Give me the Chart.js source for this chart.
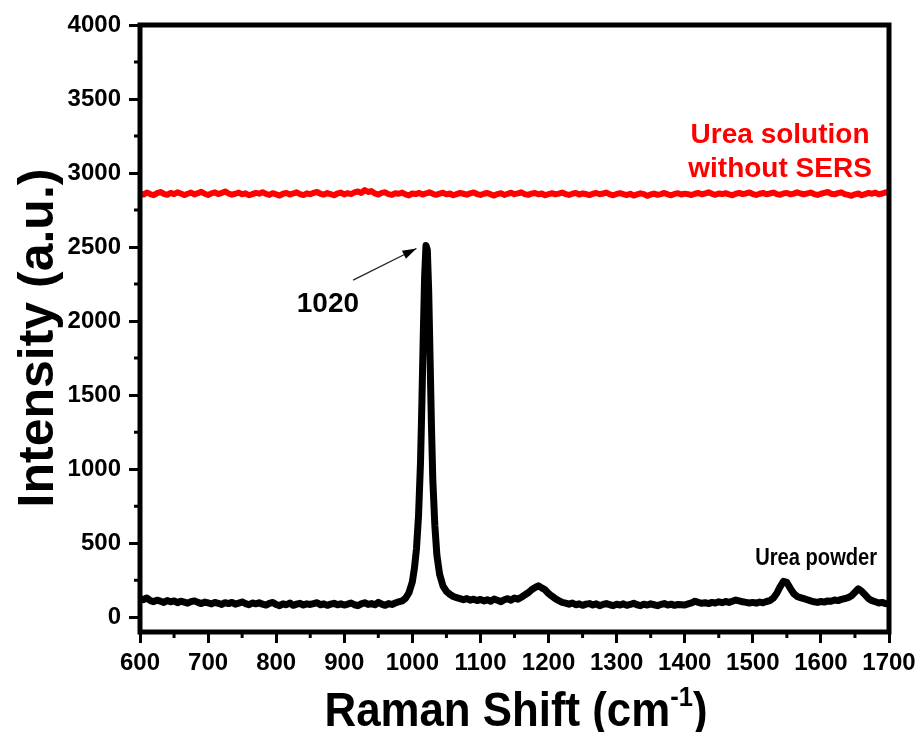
<!DOCTYPE html>
<html>
<head>
<meta charset="utf-8">
<script src="https://cdn.jsdelivr.net/npm/chart.js@4.4.1/dist/chart.umd.min.js"></script>
<style>
  html, body { margin: 0; padding: 0; background: #fff; }
  canvas { display: block; }
</style>
</head>
<body>
<canvas id="c" width="924" height="732"></canvas>
<script>
// ---------- DATA ----------
const powderShift = [
  600,605,610,615,620,625,630,635,640,645,650,655,660,665,670,675,680,685,690,695,
  700,705,710,715,720,725,730,735,740,745,750,755,760,765,770,775,780,785,790,795,
  800,805,810,815,820,825,830,835,840,845,850,855,860,865,870,875,880,885,890,895,
  900,905,910,915,920,925,930,935,940,945,950,955,960,965,970,975,980,985,990,995,
  1000,1003,1006,1009,1012,1014,1016,1018,1020,1022,1024,1026,1028,1030,1033,1036,1040,
  1045,1050,1055,1060,1065,1070,1075,1080,1085,1090,1095,1100,
  1105,1110,1115,1120,1125,1130,1135,1140,1145,1150,1155,1160,1165,1170,1175,1180,1185,1190,1195,1200,
  1205,1210,1215,1220,1225,1230,1235,1240,1245,1250,1255,1260,1265,1270,1275,1280,1285,1290,1295,1300,
  1305,1310,1315,1320,1325,1330,1335,1340,1345,1350,1355,1360,1365,1370,1375,1380,1385,1390,1395,1400,
  1405,1410,1415,1420,1425,1430,1435,1440,1445,1450,1455,1460,1465,1470,1475,1480,1485,1490,1495,1500,
  1505,1510,1515,1520,1525,1530,1535,1540,1545,1550,1555,1560,1565,1570,1575,1580,1585,1590,1595,1600,
  1605,1610,1615,1620,1625,1630,1635,1640,1645,1650,1655,1660,1665,1670,1675,1680,1685,1690,1695,1700
];
const powderIntensity = [
  125,118,130,112,105,115,108,100,112,104,110,98,108,102,95,105,110,100,92,102,
  96,90,100,94,86,98,92,100,88,95,103,92,84,96,90,98,88,82,94,100,
  86,78,90,84,96,80,88,94,82,90,86,92,98,84,90,80,88,94,84,90,
  82,88,96,84,78,90,98,86,92,84,100,88,80,92,86,96,104,110,128,165,
  240,330,460,680,1050,1450,1900,2300,2510,2480,2200,1750,1300,930,620,420,290,
  210,175,155,140,132,125,118,126,115,122,112,120,
  110,118,108,122,114,105,118,125,115,130,122,135,150,165,185,200,212,198,185,160,
  142,125,112,100,95,88,96,84,90,80,88,92,82,90,78,86,92,84,78,88,
  82,90,80,86,94,84,78,88,82,90,84,78,86,92,82,88,80,86,84,82,
  90,96,108,100,94,98,92,100,96,104,98,106,100,108,116,110,104,100,96,100,
  95,102,98,106,112,128,160,205,242,235,195,160,140,132,125,118,110,104,100,106,
  102,110,108,116,112,120,126,132,145,168,192,175,150,125,112,104,96,100,92,88
];

const solutionShift = [
  600,605,610,615,620,625,630,635,640,645,650,655,660,665,670,675,680,685,690,695,700,
  705,710,715,720,725,730,735,740,745,750,755,760,765,770,775,780,785,790,795,800,
  805,810,815,820,825,830,835,840,845,850,855,860,865,870,875,880,885,890,895,900,
  905,910,915,920,925,930,935,940,945,950,955,960,965,970,975,980,985,990,995,1000,
  1005,1010,1015,1020,1025,1030,1035,1040,1045,1050,1055,1060,1065,1070,1075,1080,1085,1090,1095,1100,
  1105,1110,1115,1120,1125,1130,1135,1140,1145,1150,1155,1160,1165,1170,1175,1180,1185,1190,1195,1200,
  1205,1210,1215,1220,1225,1230,1235,1240,1245,1250,1255,1260,1265,1270,1275,1280,1285,1290,1295,1300,
  1305,1310,1315,1320,1325,1330,1335,1340,1345,1350,1355,1360,1365,1370,1375,1380,1385,1390,1395,1400,
  1405,1410,1415,1420,1425,1430,1435,1440,1445,1450,1455,1460,1465,1470,1475,1480,1485,1490,1495,1500,
  1505,1510,1515,1520,1525,1530,1535,1540,1545,1550,1555,1560,1565,1570,1575,1580,1585,1590,1595,1600,
  1605,1610,1615,1620,1625,1630,1635,1640,1645,1650,1655,1660,1665,1670,1675,1680,1685,1690,1695,1700
];
const solutionIntensity = [
  2862,2855,2868,2858,2850,2864,2872,2860,2853,2866,2858,2870,2862,2851,2860,2868,2856,2864,2874,2860,2852,
  2863,2870,2858,2866,2876,2862,2854,2860,2868,2857,2863,2850,2858,2866,2861,2871,2859,2852,2864,2856,
  2848,2860,2866,2855,2862,2870,2858,2851,2863,2857,2866,2872,2860,2854,2865,2858,2850,2862,2868,2856,
  2864,2858,2870,2876,2866,2885,2872,2878,2862,2855,2866,2870,2858,2852,2864,2860,2868,2856,2849,2862,
  2858,2866,2855,2862,2870,2860,2853,2861,2867,2856,2862,2850,2858,2866,2860,2854,2863,2869,2858,2852,
  2860,2866,2856,2848,2858,2864,2852,2860,2867,2857,2863,2870,2858,2853,2861,2866,2856,2862,2850,2858,
  2864,2856,2861,2868,2858,2852,2860,2866,2855,2862,2858,2851,2860,2865,2857,2862,2868,2856,2850,2859,
  2864,2857,2852,2860,2848,2856,2863,2858,2846,2855,2861,2853,2858,2866,2856,2850,2859,2864,2855,2861,
  2857,2852,2860,2866,2856,2862,2870,2860,2853,2862,2858,2864,2856,2850,2860,2866,2858,2862,2869,2858,
  2852,2860,2866,2857,2862,2868,2858,2853,2862,2866,2856,2861,2870,2862,2856,2863,2868,2858,2852,2860,
  2866,2872,2860,2856,2864,2870,2858,2852,2846,2856,2862,2850,2858,2866,2860,2868,2856,2862,2870,2864
];

const xTicks = [600,700,800,900,1000,1100,1200,1300,1400,1500,1600,1700];
const yTicks = [0,500,1000,1500,2000,2500,3000,3500,4000];

const seriesNames = ['Urea powder', 'Urea solution without SERS'];
const peakLabel = '1020';
const xTitle = ['Raman Shift (cm', '-1', ')'];
const yTitle = 'Intensity (a.u.)';

// ---------- CHART ----------
const FONT = '"Liberation Sans", Arial, sans-serif';

const annotations = {
  id: 'annotations',
  afterDatasetsDraw(chart) {
    const { ctx, chartArea: a, scales: { x, y } } = chart;
    ctx.save();
    ctx.strokeStyle = '#000';
    // minor ticks
    ctx.lineWidth = 3;
    ctx.beginPath();
    for (let i = 0; i < xTicks.length - 1; i++) {
      const px = x.getPixelForValue((xTicks[i] + xTicks[i + 1]) / 2);
      ctx.moveTo(px, a.bottom); ctx.lineTo(px, a.bottom + 6);
    }
    for (let i = 0; i < yTicks.length - 1; i++) {
      const py = y.getPixelForValue((yTicks[i] + yTicks[i + 1]) / 2);
      ctx.moveTo(a.left, py); ctx.lineTo(a.left - 6, py);
    }
    ctx.stroke();
    // frame
    ctx.lineWidth = 5;
    ctx.strokeRect(a.left, a.top, a.right - a.left, a.bottom - a.top);

    // peak annotation
    ctx.fillStyle = '#000';
    ctx.font = 'bold 28px ' + FONT;
    ctx.textAlign = 'center';
    ctx.textBaseline = 'alphabetic';
    ctx.fillText(peakLabel, x.getPixelForValue(876), y.getPixelForValue(2060));
    // arrow
    const x1 = x.getPixelForValue(913), y1 = y.getPixelForValue(2277);
    const x2 = x.getPixelForValue(1006), y2 = y.getPixelForValue(2490);
    ctx.lineWidth = 1.2;
    ctx.strokeStyle = '#222';
    ctx.beginPath(); ctx.moveTo(x1, y1); ctx.lineTo(x2, y2); ctx.stroke();
    const ang = Math.atan2(y2 - y1, x2 - x1);
    ctx.beginPath();
    ctx.moveTo(x2, y2);
    ctx.lineTo(x2 - 14 * Math.cos(ang) + 4.5 * Math.sin(ang), y2 - 14 * Math.sin(ang) - 4.5 * Math.cos(ang));
    ctx.lineTo(x2 - 14 * Math.cos(ang) - 4.5 * Math.sin(ang), y2 - 14 * Math.sin(ang) + 4.5 * Math.cos(ang));
    ctx.closePath();
    ctx.fillStyle = '#000';
    ctx.fill();

    // series labels
    ctx.font = 'bold 24px ' + FONT;
    ctx.fillStyle = '#000';
    ctx.fillText(seriesNames[0], x.getPixelForValue(1593), y.getPixelForValue(351), 122);
    ctx.font = 'bold 28px ' + FONT;
    ctx.fillStyle = '#ff0000';
    ctx.fillText('Urea solution', x.getPixelForValue(1540), y.getPixelForValue(3203));
    ctx.fillText('without SERS', x.getPixelForValue(1540), y.getPixelForValue(2973));

    // axis titles
    ctx.fillStyle = '#000';
    ctx.font = 'bold 50px ' + FONT;
    ctx.save();
    ctx.translate(53, 338);
    ctx.rotate(-Math.PI / 2);
    ctx.textAlign = 'center';
    ctx.textBaseline = 'alphabetic';
    ctx.fillText(yTitle, 0, 0);
    ctx.restore();

    // x title with superscript
    ctx.save();
    ctx.textAlign = 'left';
    ctx.textBaseline = 'alphabetic';
    const mainFont = 'bold 48px ' + FONT, supFont = 'bold 28px ' + FONT;
    ctx.font = mainFont; const w1 = ctx.measureText(xTitle[0]).width;
    ctx.font = supFont; const w2 = ctx.measureText(xTitle[1]).width;
    ctx.font = mainFont; const w3 = ctx.measureText(xTitle[2]).width;
    const total = w1 + w2 + w3;
    const targetW = 383;
    const sx = targetW / total;
    ctx.translate(516 - targetW / 2, 726);
    ctx.scale(sx, 1);
    ctx.font = mainFont; ctx.fillText(xTitle[0], 0, 0);
    ctx.font = supFont; ctx.fillText(xTitle[1], w1, -20);
    ctx.font = mainFont; ctx.fillText(xTitle[2], w1 + w2, 0);
    ctx.restore();

    ctx.restore();
  }
};

new Chart(document.getElementById('c'), {
  type: 'line',
  data: {
    datasets: [
      {
        label: seriesNames[1],
        data: solutionShift.map((s, i) => ({ x: s, y: solutionIntensity[i] })),
        borderColor: '#ff0000',
        borderWidth: 6,
        pointRadius: 0,
        tension: 0,
        borderJoinStyle: 'round',
        borderCapStyle: 'round'
      },
      {
        label: seriesNames[0],
        data: powderShift.map((s, i) => ({ x: s, y: powderIntensity[i] })),
        borderColor: '#000000',
        borderWidth: 7,
        pointRadius: 0,
        tension: 0,
        borderJoinStyle: 'round',
        borderCapStyle: 'round'
      }
    ]
  },
  options: {
    responsive: false,
    animation: false,
    events: [],
    layout: { padding: { top: 25, right: 35, left: 0, bottom: 0 } },
    plugins: { legend: { display: false }, tooltip: { enabled: false }, title: { display: false } },
    scales: {
      x: {
        type: 'linear',
        min: 600,
        max: 1700,
        afterBuildTicks: (s) => { s.ticks = xTicks.map(v => ({ value: v })); },
        afterFit: (s) => { s.height = 100; },
        border: { display: false },
        grid: { drawOnChartArea: false, drawTicks: true, tickLength: 11, tickWidth: 3, tickColor: '#000' },
        ticks: { color: '#000', font: { family: FONT, size: 24, weight: 'bold' }, padding: 6, maxRotation: 0, autoSkip: false,
                 callback: (v) => String(v) }
      },
      y: {
        type: 'linear',
        min: -100,
        max: 4000,
        afterBuildTicks: (s) => { s.ticks = yTicks.map(v => ({ value: v })); },
        afterFit: (s) => { s.width = 140; },
        border: { display: false },
        grid: { drawOnChartArea: false, drawTicks: true, tickLength: 11, tickWidth: 3, tickColor: '#000' },
        ticks: { color: '#000', font: { family: FONT, size: 24, weight: 'bold' }, padding: 8,
                 callback: (v) => String(v) }
      }
    }
  },
  plugins: [annotations]
});
</script>
</body>
</html>
